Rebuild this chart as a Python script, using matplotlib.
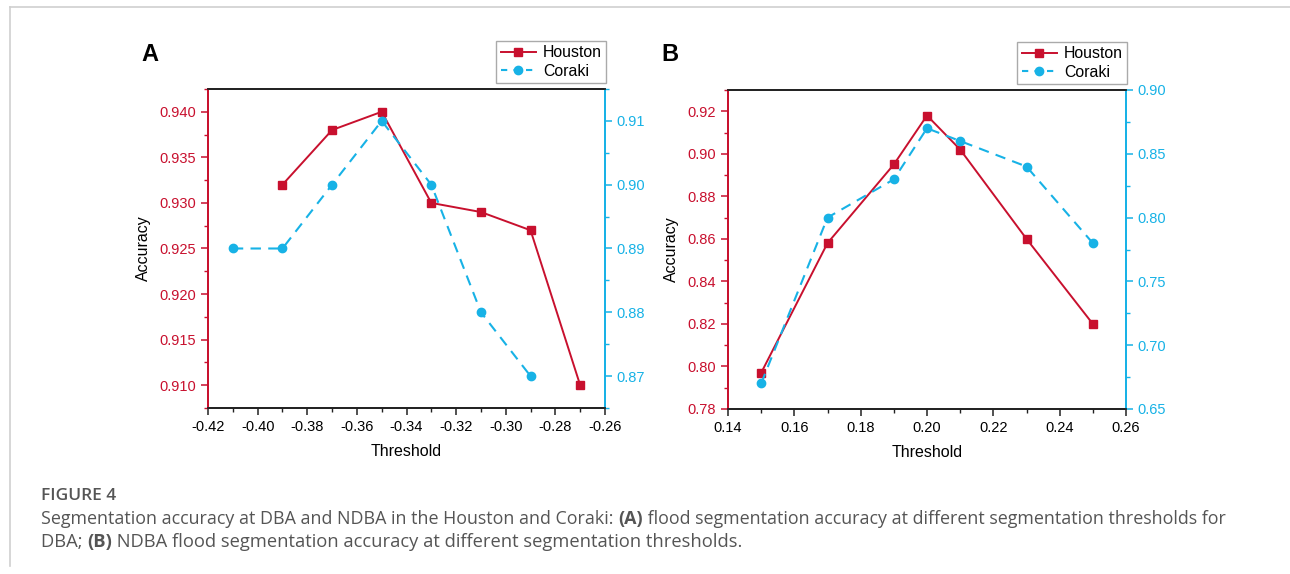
import numpy as np
import matplotlib
matplotlib.use('Agg')
import matplotlib.pyplot as plt
from matplotlib.ticker import MultipleLocator, FormatStrFormatter
from matplotlib.lines import Line2D

# panel A (DBA)
a_hou_x = [-0.39, -0.37, -0.35, -0.33, -0.31, -0.29, -0.27]
a_hou_y = [0.932, 0.938, 0.940, 0.930, 0.929, 0.927, 0.910]
a_cor_x = [-0.41, -0.39, -0.37, -0.35, -0.33, -0.31, -0.29]
a_cor_y = [0.89, 0.89, 0.90, 0.91, 0.90, 0.88, 0.87]

# panel B (NDBA)
b_hou_x = [0.15, 0.17, 0.19, 0.20, 0.21, 0.23, 0.25]
b_hou_y = [0.797, 0.858, 0.895, 0.918, 0.902, 0.860, 0.820]
b_cor_x = [0.15, 0.17, 0.19, 0.20, 0.21, 0.23, 0.25]
b_cor_y = [0.67, 0.80, 0.83, 0.87, 0.86, 0.84, 0.78]

series_names = ['Houston', 'Coraki']
RED = '#c8102e'
CYAN = '#17b2e6'

plt.rcParams['font.family'] = ['Liberation Sans', 'DejaVu Sans']

fig = plt.figure(figsize=(12.9, 5.74), dpi=100)

# light page frame
fig.add_artist(Line2D([10/1290, 1], [1-7/574, 1-7/574], color='#cfcfcf', lw=1.2))
fig.add_artist(Line2D([10/1290, 10/1290], [1-7/574, 1-566/574], color='#cfcfcf', lw=1.2))


def panel(rect, hx, hy, cx, cy, xlim, xmaj, xmin_, ylim, ymaj, ymin_, yfmt,
          y2lim, y2maj, y2min, y2fmt, letter):
    ax = fig.add_axes(rect)
    ax2 = ax.twinx()
    ax.plot(hx, hy, color=RED, lw=1.4, marker='s', ms=5.5, zorder=3)
    ax2.plot(cx, cy, color=CYAN, lw=1.5, ls=(0, (5, 3.5)), marker='o', ms=6, zorder=3)
    ax.set_xlim(*xlim)
    ax.set_ylim(*ylim)
    ax2.set_ylim(*y2lim)
    ax.xaxis.set_major_locator(MultipleLocator(xmaj))
    ax.xaxis.set_minor_locator(MultipleLocator(xmin_))
    ax.xaxis.set_major_formatter(FormatStrFormatter('%.2f'))
    ax.yaxis.set_major_locator(MultipleLocator(ymaj))
    ax.yaxis.set_minor_locator(MultipleLocator(ymin_))
    ax.yaxis.set_major_formatter(FormatStrFormatter(yfmt))
    ax2.yaxis.set_major_locator(MultipleLocator(y2maj))
    ax2.yaxis.set_minor_locator(MultipleLocator(y2min))
    ax2.yaxis.set_major_formatter(FormatStrFormatter(y2fmt))
    for a in (ax, ax2):
        a.tick_params(which='major', direction='out', length=5, width=1.1, labelsize=10.5)
        a.tick_params(which='minor', direction='out', length=3, width=1.0)
        a.spines['left'].set_color(RED)
        a.spines['right'].set_color(CYAN)
        a.spines['top'].set_color('#222222')
        a.spines['bottom'].set_color('#222222')
        for s in a.spines.values():
            s.set_linewidth(1.3)
    ax.tick_params(axis='y', which='both', colors=RED)
    ax2.tick_params(axis='y', which='both', colors=CYAN)
    ax.tick_params(axis='x', which='both', colors='#222222')
    ax.tick_params(axis='x', labelcolor='black')
    ax.set_xlabel('Threshold', fontsize=11.5, labelpad=7)
    ax.set_ylabel('Accuracy', fontsize=11.5, labelpad=6)
    handles = [Line2D([], [], color=RED, lw=1.4, marker='s', ms=5.5),
               Line2D([], [], color=CYAN, lw=1.5, ls=(0, (3, 3)), marker='o', ms=6)]
    leg = ax.legend(handles, series_names, loc='lower right', bbox_to_anchor=(1.003, 1.019),
                    fancybox=False, edgecolor='#aaaaaa', framealpha=1, fontsize=11.4,
                    handlelength=2.2, handletextpad=0.45, borderpad=0.28,
                    labelspacing=0.2, borderaxespad=0)
    leg.get_frame().set_linewidth(1.0)
    fig.text(rect[0] - 0.052, 0.905, letter, fontsize=17, fontweight='bold',
             ha='left', va='center')
    return ax, ax2


panel([208/1290, 1-408/574, 397/1290, 319/574], a_hou_x, a_hou_y, a_cor_x, a_cor_y,
      (-0.42, -0.26), 0.02, 0.01, (0.9075, 0.9425), 0.005, 0.0025, '%.3f',
      (0.865, 0.915), 0.01, 0.005, '%.2f', 'A')
panel([728/1290, 1-409/574, 398/1290, 319/574], b_hou_x, b_hou_y, b_cor_x, b_cor_y,
      (0.14, 0.26), 0.02, 0.01, (0.78, 0.93), 0.02, 0.01, '%.2f',
      (0.65, 0.90), 0.05, 0.025, '%.2f', 'B')

# caption
CAP_X = 41
fig.text(CAP_X/1290, 1-496/574, 'FIGURE 4', fontsize=12.5, fontweight='semibold',
         color='#555555', family='Open Sans', va='center')

renderer = fig.canvas.get_renderer()


def rich_line(x_px, y_px, parts, size=13):
    x = x_px
    for txt, bold in parts:
        t = fig.text(x / 1290, 1 - y_px / 574, txt, fontsize=size,
                     fontweight='bold' if bold else 'normal', color='#555555',
                     family='Open Sans', va='center', ha='left')
        bb = t.get_window_extent(renderer)
        x += bb.width


rich_line(CAP_X, 519, [('Segmentation accuracy at DBA and NDBA in the Houston and Coraki: ', False),
                       ('(A)', True),
                       (' flood segmentation accuracy at different segmentation thresholds for', False)],
          size=12.85)
rich_line(CAP_X, 542, [('DBA; ', False), ('(B)', True),
                       (' NDBA flood segmentation accuracy at different segmentation thresholds.', False)],
          size=13.25)

fig.savefig('out.png', dpi=100)
